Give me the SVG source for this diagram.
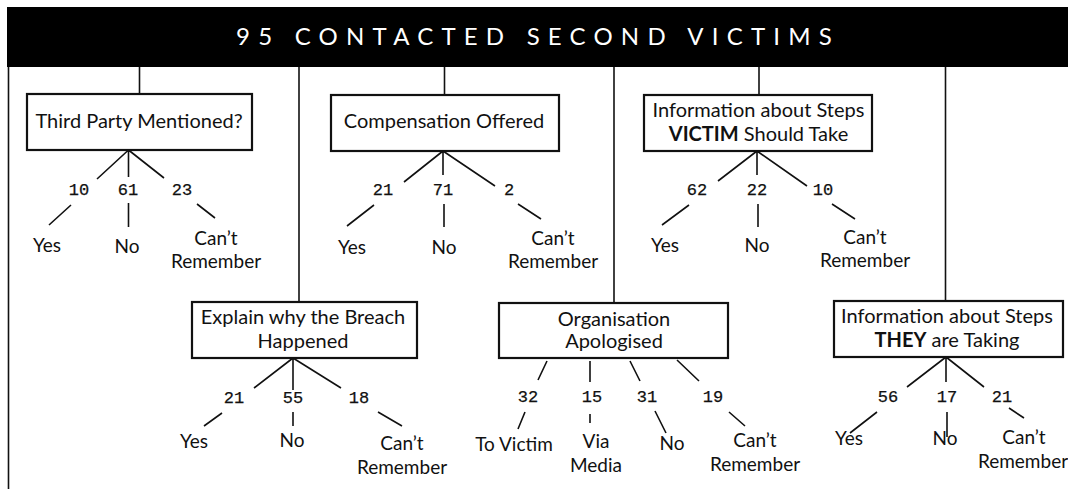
<svg xmlns="http://www.w3.org/2000/svg" width="1068" height="489" viewBox="0 0 1068 489">
<style>
.bg{fill:#fff}
.hdr{fill:#000}
.title{font-family:Lato,"Open Sans","Liberation Sans",sans-serif;font-size:24px;fill:#fff;text-anchor:middle;letter-spacing:8.2px}
.box{fill:#fff;stroke:#111;stroke-width:2.2}
.q{font-family:Lato,"Open Sans","Liberation Sans",sans-serif;font-size:20px;fill:#111;text-anchor:middle}
.b{font-weight:700}
.a{font-family:Lato,"Open Sans","Liberation Sans",sans-serif;font-size:19px;fill:#111;text-anchor:middle}
.n{font-family:"Liberation Mono","DejaVu Sans Mono",monospace;font-size:17px;fill:#111;stroke:#111;stroke-width:0.25;text-anchor:middle}
.c{stroke:#111;stroke-width:1.6;fill:none;stroke-linecap:butt}
</style>
<rect class="bg" x="0" y="0" width="1068" height="489"/>
<g id="header">
<rect class="hdr" x="7" y="7" width="1061" height="60"/>
<text class="title" x="538" y="45">95 CONTACTED SECOND VICTIMS</text>
</g>
<g id="connectors">
<line class="c" x1="8.5" y1="67" x2="8.5" y2="489"/>
<line class="c" x1="139.5" y1="67" x2="139.5" y2="94"/>
<line class="c" x1="299" y1="67" x2="299" y2="302"/>
<line class="c" x1="444.5" y1="67" x2="444.5" y2="95"/>
<line class="c" x1="614" y1="67" x2="614" y2="303"/>
<line class="c" x1="759" y1="67" x2="759" y2="95"/>
<line class="c" x1="945.5" y1="67" x2="945.5" y2="301"/>
<path class="c" d="M128.5 150 L97 179 M128.5 150 L128.5 177 M128.5 150 L164 178"/>
<path class="c" d="M71 205 L49 225 M128.5 203 L128.5 227 M197 204 L215 218"/>
<path class="c" d="M443 151 L404 182 M443 151 L443 175 M443 151 L495 186"/>
<path class="c" d="M374 205 L347 226 M444 204 L444 227 M518 204 L541 219"/>
<path class="c" d="M757 151 L718 181 M757 151 L757 175 M757 151 L807 186"/>
<path class="c" d="M689 205 L662 225 M758 204 L758 227 M832 204 L855 219"/>
<path class="c" d="M293 358 L254 388 M293 358 L293 390 M293 358 L341 388"/>
<path class="c" d="M222 413 L204 426 M293 412 L293 426 M378 412 L402 426"/>
<path class="c" d="M547 361 L538 380 M590 361 L590 382 M630 361 L640 381 M677 360 L699 381"/>
<path class="c" d="M525 412 L518 429 M590 414 L590 423 M655 411 L666 433 M729 412 L745 426"/>
<path class="c" d="M946 357 L907 387 M946 357 L946 382 M946 357 L984 387"/>
<path class="c" d="M877 412 L850 433 M947 412 L947 437 M1009 408 L1024 418"/>
</g>
<g id="node-third-party">
<rect class="box" x="27" y="94" width="225" height="56"/>
<text class="q" x="139" y="128">Third Party Mentioned?</text>
<text class="n" x="79" y="195">10</text>
<text class="n" x="128" y="195">61</text>
<text class="n" x="182" y="195">23</text>
<text class="a" x="47" y="252">Yes</text>
<text class="a" x="127" y="253">No</text>
<text class="a" x="216" y="245">Can’t</text>
<text class="a" x="216" y="268">Remember</text>
</g>
<g id="node-compensation">
<rect class="box" x="331" y="95" width="228" height="56"/>
<text class="q" x="444" y="128">Compensation Offered</text>
<text class="n" x="383" y="195">21</text>
<text class="n" x="443" y="195">71</text>
<text class="n" x="509" y="195">2</text>
<text class="a" x="352" y="254">Yes</text>
<text class="a" x="444" y="254">No</text>
<text class="a" x="553" y="245">Can’t</text>
<text class="a" x="553" y="268">Remember</text>
</g>
<g id="node-victim-steps">
<rect class="box" x="644" y="95" width="228" height="56"/>
<text class="q" x="758.5" y="117">Information about Steps</text>
<text class="q" x="758.5" y="141"><tspan class="b">VICTIM</tspan> Should Take</text>
<text class="n" x="697" y="195">62</text>
<text class="n" x="757" y="195">22</text>
<text class="n" x="823" y="195">10</text>
<text class="a" x="665" y="252">Yes</text>
<text class="a" x="757" y="252">No</text>
<text class="a" x="865" y="244">Can’t</text>
<text class="a" x="865" y="267">Remember</text>
</g>
<g id="node-explain">
<rect class="box" x="192" y="302" width="225" height="56"/>
<text class="q" x="303" y="324">Explain why the Breach</text>
<text class="q" x="303" y="348">Happened</text>
<text class="n" x="234" y="403">21</text>
<text class="n" x="293" y="403">55</text>
<text class="n" x="359" y="403">18</text>
<text class="a" x="194" y="448">Yes</text>
<text class="a" x="292" y="447">No</text>
<text class="a" x="402" y="450">Can’t</text>
<text class="a" x="402" y="474">Remember</text>
</g>
<g id="node-apologised">
<rect class="box" x="499" y="303" width="229" height="55"/>
<text class="q" x="614" y="326">Organisation</text>
<text class="q" x="614" y="348">Apologised</text>
<text class="n" x="528" y="402">32</text>
<text class="n" x="592" y="402">15</text>
<text class="n" x="647" y="402">31</text>
<text class="n" x="713" y="402">19</text>
<text class="a" x="514" y="451">To Victim</text>
<text class="a" x="596" y="448">Via</text>
<text class="a" x="596" y="472">Media</text>
<text class="a" x="672" y="450">No</text>
<text class="a" x="755" y="447">Can’t</text>
<text class="a" x="755" y="471">Remember</text>
</g>
<g id="node-they-steps">
<rect class="box" x="834" y="301" width="229" height="56"/>
<text class="q" x="947" y="323">Information about Steps</text>
<text class="q" x="947" y="347"><tspan class="b">THEY</tspan> are Taking</text>
<text class="n" x="888" y="402">56</text>
<text class="n" x="947" y="402">17</text>
<text class="n" x="1002" y="402">21</text>
<text class="a" x="849" y="445">Yes</text>
<text class="a" x="945" y="445">No</text>
<text class="a" x="1024" y="444">Can’t</text>
<text class="a" x="1023" y="468">Remember</text>
</g>
</svg>
